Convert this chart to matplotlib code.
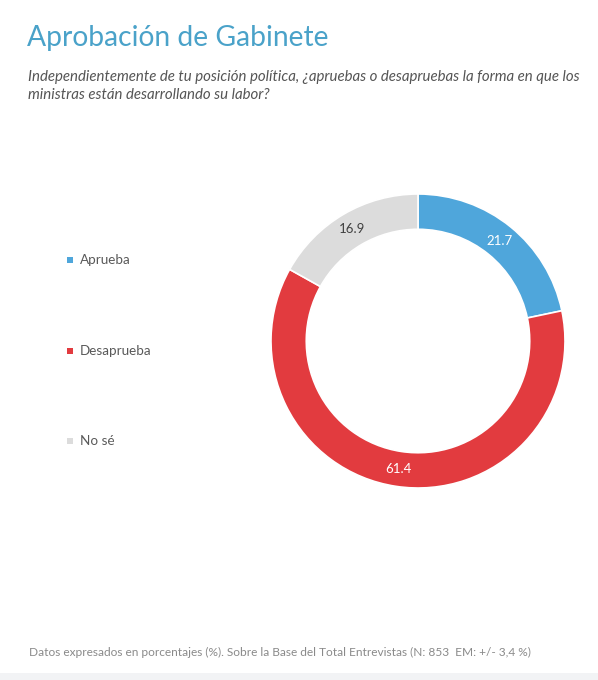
import matplotlib.pyplot as plt
from matplotlib.patches import Rectangle

# data
categories = ['Aprueba', 'Desaprueba', 'No sé']
values = [21.7, 61.4, 16.9]
colors = ['#4fa6db', '#e23b3f', '#dcdcdc']
label_colors = ['white', 'white', '#404040']

W, H = 598, 680
fig = plt.figure(figsize=(W / 100, H / 100), dpi=100)
fig.patch.set_facecolor('white')

def fx(px):
    return px / W

def fy(py):
    return 1 - py / H

# title and question
fig.text(fx(27), fy(38), 'Aprobación de Gabinete', fontsize=20.3, color='#4aa2c9',
         family='Lato', va='center', ha='left')
fig.text(fx(28), fy(77), 'Independientemente de tu posición política, ¿apruebas o desapruebas la forma en que los',
         fontsize=10.8, color='#555555', family='Lato', style='italic', va='center', ha='left')
fig.text(fx(28), fy(95), 'ministras están desarrollando su labor?',
         fontsize=10.8, color='#555555', family='Lato', style='italic', va='center', ha='left')

# donut
cx, cy, r = 418, 341, 147
ax = fig.add_axes([fx(cx - r), fy(cy + r), 2 * r / W, 2 * r / H])
wedges, texts, autotexts = ax.pie(values, colors=colors, startangle=90, counterclock=False,
                                  autopct='%.1f', pctdistance=0.88,
                                  wedgeprops=dict(width=0.24, edgecolor='white', linewidth=1.2),
                                  textprops=dict(fontsize=9.5, family='Lato'))
for t, c in zip(autotexts, label_colors):
    t.set_color(c)
ax.set_aspect('equal')
ax.set_xlim(-1, 1)
ax.set_ylim(-1, 1)
ax.axis('off')

# legend
legend_y = [260, 351, 441]
for name, col, y in zip(categories, colors, legend_y):
    fig.patches.append(Rectangle((fx(67), fy(y + 3)), 6 / W, 6 / H, transform=fig.transFigure,
                                 facecolor=col, edgecolor='none'))
    fig.text(fx(80), fy(y), name, fontsize=9.7, color='#595959', family='Lato',
             va='center', ha='left')

# footer
fig.text(fx(29), fy(652), 'Datos expresados en porcentajes (%). Sobre la Base del Total Entrevistas (N: 853  EM: +/- 3,4 %)',
         fontsize=8.6, color='#8a8a8a', family='Lato', va='center', ha='left')
fig.patches.append(Rectangle((0, 0), 1, 7 / H, transform=fig.transFigure,
                             facecolor='#f2f3f5', edgecolor='none'))

fig.savefig('out.png', dpi=100)
